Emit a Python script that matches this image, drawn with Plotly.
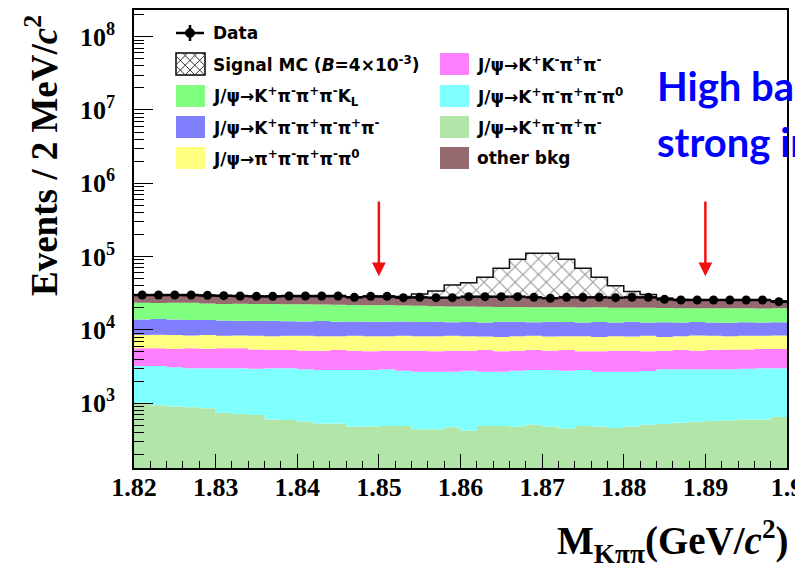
import numpy as np
import plotly.graph_objects as go

# ---------------- data ----------------
mass_centers = [1.821, 1.823, 1.825, 1.827, 1.829, 1.831, 1.833, 1.835, 1.837, 1.839,
                1.841, 1.843, 1.845, 1.847, 1.849, 1.851, 1.853, 1.855, 1.857, 1.859,
                1.861, 1.863, 1.865, 1.867, 1.869, 1.871, 1.873, 1.875, 1.877, 1.879,
                1.881, 1.883, 1.885, 1.887, 1.889, 1.891, 1.893, 1.895, 1.897, 1.899]
bin_width = 0.002

data_counts = [29900, 29900, 29900, 29900, 29600, 29300, 29000, 28700, 28700, 29000,
               29000, 29000, 29000, 27800, 28700, 28700, 27500, 27800, 27500, 27500,
               28400, 28400, 28400, 28400, 27800, 27000, 27800, 27800, 27800, 27500,
               27800, 27800, 26100, 25600, 25600, 25600, 25600, 25600, 25600, 24300]

# background components, bottom of the stack first
bkg_k3pi = [980, 940, 900, 880, 850, 740, 710, 690, 600, 590, 560, 530, 530, 480, 480, 490, 490, 440, 440, 470,
            420, 490, 490, 480, 510, 480, 450, 490, 480, 460, 480, 510, 520, 540, 560, 570, 580, 600, 600, 650]
bkg_k3pipi0 = [2240, 2280, 2200, 2110, 2140, 2250, 2280, 2260, 2390, 2400, 2340, 2310, 2310, 2360, 2360, 2410, 2290, 2250, 2250, 2220,
               2360, 2200, 2200, 2300, 2330, 2360, 2330, 2350, 2210, 2230, 2210, 2240, 2380, 2360, 2340, 2330, 2320, 2350, 2390, 2340]
bkg_kkpipi = [2380, 2380, 2400, 2610, 2510, 2610, 2610, 2450, 2310, 2310, 2300, 2360, 2460, 2360, 2260, 2300, 2420, 2510, 2410, 2510,
              2420, 2610, 2410, 2420, 2460, 2360, 2520, 2260, 2410, 2510, 2510, 2350, 2300, 2400, 2300, 2400, 2500, 2450, 2510, 2510]
bkg_5pi = [2900, 3000, 3000, 2800, 3000, 2700, 2800, 2900, 2900, 3000, 3100, 3000, 2900, 3100, 3100, 3000, 3100, 3000, 3100, 3100,
           3000, 2800, 2900, 3000, 3000, 2900, 2900, 3100, 2900, 3000, 2900, 3200, 2800, 2900, 3200, 3000, 2800, 2900, 2800, 2900]
bkg_k5pi = [5400, 5500, 5400, 5200, 5100, 5100, 4950, 4900, 5150, 4800, 4700, 5000, 4750, 4700, 4750, 4700, 4700, 4600, 4750, 4400,
            4600, 4500, 4950, 4700, 4400, 4850, 4600, 4400, 4800, 4400, 4800, 4300, 4700, 4400, 4400, 4300, 4300, 4400, 4300, 4300]
bkg_k3pikl = [9600, 9100, 9600, 9800, 9400, 9200, 9350, 9300, 9250, 9300, 9300, 9000, 9050, 8900, 8750, 9000, 8500, 8500, 8050, 8100,
              8000, 8100, 7650, 7600, 7700, 7450, 7500, 7600, 7500, 7400, 7100, 7500, 7200, 7200, 7000, 7100, 7300, 7000, 7000, 7000]
bkg_other = [6100, 6400, 6100, 6100, 6300, 6400, 6100, 6100, 6000, 6300, 6300, 6400, 6500, 6200, 6600, 6300, 6400, 6600, 6700, 6800,
             7200, 7400, 7400, 7400, 7300, 7000, 7300, 7400, 7200, 7400, 7500, 7200, 6600, 6200, 6000, 6100, 5900, 5900, 5900, 5100]
signal_mc = [0, 0, 0, 0, 0, 0, 0, 0, 0, 0, 0, 0, 0, 0, 0, 0,
             600, 3000, 6300, 13300, 16000, 24000, 41200, 64000, 83200, 83500, 64300, 41600, 24600, 12600, 6000, 3200, 800,
             0, 0, 0, 0, 0, 0, 0]

cut_positions = [1.85, 1.89]
arrow_tip, arrow_tail = 5.4e4, 5.9e5

x_tick_vals = [1.82, 1.83, 1.84, 1.85, 1.86, 1.87, 1.88, 1.89, 1.90]
x_tick_text = ["1.82", "1.83", "1.84", "1.85", "1.86", "1.87", "1.88", "1.89", "1.9"]
y_tick_exps = [3, 4, 5, 6, 7, 8]

stack_order = [
    ("J/ψ→K<sup>+</sup>π<sup>-</sup>π<sup>+</sup>π<sup>-</sup>", bkg_k3pi, "#b2e6a8"),
    ("J/ψ→K<sup>+</sup>π<sup>-</sup>π<sup>+</sup>π<sup>-</sup>π<sup>0</sup>", bkg_k3pipi0, "#80ffff"),
    ("J/ψ→K<sup>+</sup>K<sup>-</sup>π<sup>+</sup>π<sup>-</sup>", bkg_kkpipi, "#ff80ff"),
    ("J/ψ→π<sup>+</sup>π<sup>-</sup>π<sup>+</sup>π<sup>-</sup>π<sup>0</sup>", bkg_5pi, "#ffff80"),
    ("J/ψ→K<sup>+</sup>π<sup>-</sup>π<sup>+</sup>π<sup>-</sup>π<sup>+</sup>π<sup>-</sup>", bkg_k5pi, "#8080ff"),
    ("J/ψ→K<sup>+</sup>π<sup>-</sup>π<sup>+</sup>π<sup>-</sup>K<sub>L</sub>", bkg_k3pikl, "#80ff80"),
    ("other bkg", bkg_other, "#946a6f"),
]

# ---------------- geometry ----------------
# The page places the figure 8 px from the window's top-left corner,
# so the margins are set to put the plot frame at window x 134-787, y 10-468.
OFF = 8
W, H = 803, 572
PL, PR, PT, PB = 134, 787, 10, 468          # plot frame, window pixels
ML, MT = PL - OFF, PT - OFF
MR, MB = W - (PR - OFF), H - (PB - OFF)
PW, PH = PR - PL, PB - PT


def px(x):
    return (x - PL) / PW


def py(y):
    return (PB - y) / PH


centers = np.array(mass_centers)
edges = np.append(centers - bin_width / 2, centers[-1] + bin_width / 2)


def step_y(v):
    v = np.asarray(v, dtype=float)
    return np.append(v, v[-1])


fig = go.Figure()
fig.add_trace(go.Scatter(x=edges, y=np.ones(len(edges)), mode="lines", line=dict(width=0),
                         line_shape="hv", showlegend=False, hoverinfo="skip"))
cum = np.zeros(len(centers))
for name, vals, col in stack_order:
    cum = cum + np.asarray(vals, dtype=float)
    fig.add_trace(go.Scatter(x=edges, y=step_y(cum), mode="lines", line=dict(width=0, color=col),
                             line_shape="hv", fill="tonexty", fillcolor=col, name=name, showlegend=False))
sig_total = cum + np.asarray(signal_mc, dtype=float)
fig.add_trace(go.Scatter(x=edges, y=step_y(sig_total), mode="lines", line=dict(width=1.5, color="#111111"),
                         line_shape="hv", fill="tonexty", fillcolor="white",
                         fillpattern=dict(shape="x", fgcolor="#333333", bgcolor="white", size=11, solidity=0.2),
                         name="Signal MC", showlegend=False))
fig.add_trace(go.Scatter(x=centers, y=data_counts, mode="markers",
                         marker=dict(symbol="circle", size=9, color="black"),
                         error_x=dict(type="constant", value=bin_width / 2, thickness=2.5, width=0, color="black"),
                         error_y=dict(type="data", array=np.sqrt(data_counts), thickness=2, width=0, color="black"),
                         name="Data", showlegend=False))

# cut arrows
for xc in cut_positions:
    fig.add_annotation(x=xc, y=np.log10(arrow_tip), ax=xc, ay=np.log10(arrow_tail), xref="x", yref="y",
                       axref="x", ayref="y", showarrow=True, arrowhead=2, arrowsize=1.1, arrowwidth=2.5,
                       arrowcolor="#f01010", text="", standoff=0)

# ---------------- legend (drawn by hand, ROOT style) ----------------
leg_font = dict(family="DejaVu Sans", size=17, color="black", weight="bold")
box_w, box_h = 29, 22
left_box_x, right_box_x = 176, 440
row_y = [33, 64, 96, 127, 158]

# Data entry
fig.add_shape(type="line", xref="paper", yref="paper", x0=px(176), x1=px(204), y0=py(row_y[0]), y1=py(row_y[0]),
              line=dict(color="black", width=2.5))
fig.add_shape(type="line", xref="paper", yref="paper", x0=px(190), x1=px(190), y0=py(row_y[0] - 8), y1=py(row_y[0] + 8),
              line=dict(color="black", width=2.5))
fig.add_shape(type="circle", xref="paper", yref="paper", x0=px(185.5), x1=px(194.5), y0=py(row_y[0] - 4.5),
              y1=py(row_y[0] + 4.5), fillcolor="black", line=dict(color="black", width=1))
fig.add_annotation(x=px(211), y=py(row_y[0]), xref="paper", yref="paper", xanchor="left", yanchor="middle",
                   text="Data", showarrow=False, font=leg_font)


def add_box(x0, yc, color, outline=None):
    fig.add_shape(type="rect", xref="paper", yref="paper", x0=px(x0), x1=px(x0 + box_w),
                  y0=py(yc + box_h / 2), y1=py(yc - box_h / 2), fillcolor=color,
                  line=dict(color=outline if outline else color, width=1.5 if outline else 0))


# signal hatch box
sx0, sy0 = left_box_x, row_y[1] - box_h / 2
sx1, sy1 = sx0 + box_w, sy0 + box_h
add_box(left_box_x, row_y[1], "white", outline="black")
step = 9.7
for c in np.arange(sy0 - sx1 + 3, sy1 - sx0, step):
    xa, xb = max(sx0, sy0 - c), min(sx1, sy1 - c)
    if xb > xa:
        fig.add_shape(type="line", xref="paper", yref="paper", x0=px(xa), y0=py(xa + c), x1=px(xb), y1=py(xb + c),
                      line=dict(color="#333333", width=1))
for c in np.arange(sx0 + sy0 + 2, sx1 + sy1, step):
    xa, xb = max(sx0, c - sy1), min(sx1, c - sy0)
    if xb > xa:
        fig.add_shape(type="line", xref="paper", yref="paper", x0=px(xa), y0=py(c - xa), x1=px(xb), y1=py(c - xb),
                      line=dict(color="#333333", width=1))
fig.add_annotation(x=px(211), y=py(row_y[1]), xref="paper", yref="paper", xanchor="left", yanchor="middle",
                   text="Signal MC (<i>B</i>=4×10<sup>-3</sup>)", showarrow=False, font=leg_font)

legend_left = [stack_order[5], stack_order[4], stack_order[3]]
legend_right = [stack_order[2], stack_order[1], stack_order[0], stack_order[6]]
for i, (name, _, col) in enumerate(legend_left):
    yc = row_y[i + 2]
    add_box(left_box_x, yc, col)
    fig.add_annotation(x=px(211), y=py(yc), xref="paper", yref="paper", xanchor="left", yanchor="middle",
                       text=name, showarrow=False, font=leg_font)
for i, (name, _, col) in enumerate(legend_right):
    yc = row_y[i + 1]
    add_box(right_box_x, yc, col)
    fig.add_annotation(x=px(475), y=py(yc), xref="paper", yref="paper", xanchor="left", yanchor="middle",
                       text=name, showarrow=False, font=leg_font)

# axis titles
serif_b = dict(family="Liberation Serif", color="black", weight="bold")
fig.add_annotation(x=px(42), y=py(156), xref="paper", yref="paper", textangle=-90, showarrow=False,
                   text="Events / 2 MeV/<i>c</i><sup>2</sup>", font=dict(serif_b, size=37),
                   xanchor="center", yanchor="middle")
fig.add_annotation(x=px(791), y=py(541), xref="paper", yref="paper", showarrow=False,
                   text="M<sub>Kππ</sub>(GeV/<i>c</i><sup>2</sup>)", font=dict(serif_b, size=39),
                   xanchor="right", yanchor="middle")

# overlay slide text (runs past the right edge, as in the reference)
blue_font = dict(family="Lato", size=40, color="#0000ff", weight="bold")
fig.add_annotation(x=px(655), y=py(86), xref="paper", yref="paper", xanchor="left", yanchor="middle",
                   showarrow=False, text="High background", font=blue_font)
fig.add_annotation(x=px(655), y=py(142), xref="paper", yref="paper", xanchor="left", yanchor="middle",
                   showarrow=False, text="strong interference", font=blue_font)

y_minor = [m * 10 ** e for e in range(2, 9) for m in range(2, 10)]
fig.update_layout(
    width=W, height=H, margin=dict(l=ML, r=MR, t=MT, b=MB, autoexpand=False),
    paper_bgcolor="white", plot_bgcolor="white", showlegend=False,
    xaxis=dict(range=[1.82, 1.90], tickvals=x_tick_vals, ticktext=x_tick_text, ticks="inside", ticklen=14,
               tickwidth=1.3, tickcolor="black", showgrid=False, zeroline=False, showline=True, linecolor="black",
               linewidth=1.5, mirror=True, tickfont=dict(serif_b, size=26), ticklabelstandoff=-5,
               minor=dict(dtick=bin_width, tick0=1.82, ticks="inside", ticklen=7, tickwidth=1.2, tickcolor="black",
                          showgrid=False)),
    yaxis=dict(type="log", range=[2.116, 8.364], tickvals=[10 ** e for e in y_tick_exps],
               ticktext=["10<sup>%d</sup>" % e for e in y_tick_exps], ticks="inside", ticklen=19, tickwidth=1.3,
               tickcolor="black", showgrid=False, zeroline=False, showline=True, linecolor="black", linewidth=1.5,
               mirror=True, tickfont=dict(serif_b, size=26), ticklabelstandoff=12,
               minor=dict(tickvals=y_minor, ticks="inside", ticklen=10, tickwidth=1.2, tickcolor="black",
                          showgrid=False)),
)

fig.write_html("out.html")
